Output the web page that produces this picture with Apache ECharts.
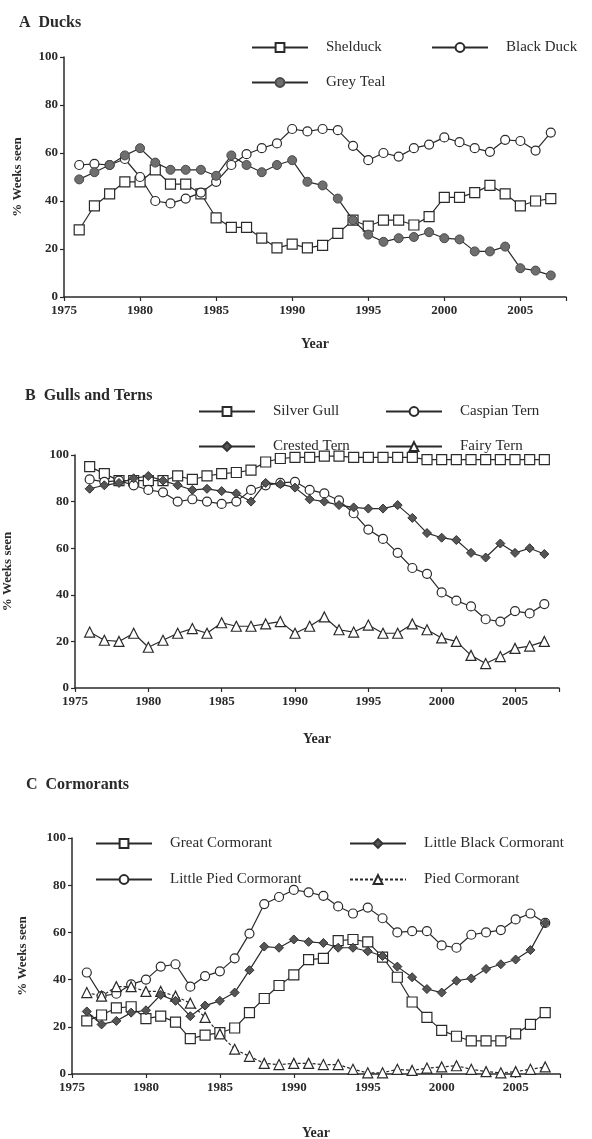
<!DOCTYPE html>
<html>
<head>
<meta charset="utf-8">
<script src="https://cdn.jsdelivr.net/npm/echarts@6/dist/echarts.min.js"></script>
<style>
  html, body { margin: 0; padding: 0; background: #fff; }
  #chart { width: 592px; height: 1139px; }
</style>
</head>
<body>
<div id="chart"></div>
<script>
// survey years
var years = [1976, 1977, 1978, 1979, 1980, 1981, 1982, 1983, 1984, 1985, 1986, 1987, 1988, 1989, 1990, 1991,
  1992, 1993, 1994, 1995, 1996, 1997, 1998, 1999, 2000, 2001, 2002, 2003, 2004, 2005, 2006, 2007];

// A Ducks
var shelduck = [28, 38, 43, 48, 48, 53, 47, 47, 43, 33, 29, 29, 24.5, 20.5, 22, 20.5,
  21.5, 26.5, 32, 29.5, 32, 32, 30, 33.5, 41.5, 41.5, 43.5, 46.5, 43, 38, 40, 41];
var blackDuck = [55, 55.5, 55, 57.5, 50, 40, 39, 41, 43.5, 48, 55, 59.5, 62, 64, 70, 69,
  70, 69.5, 63, 57, 60, 58.5, 62, 63.5, 66.5, 64.5, 62, 60.5, 65.5, 65, 61, 68.5];
var greyTeal = [49, 52, 55, 59, 62, 56, 53, 53, 53, 50.5, 59, 55, 52, 55, 57, 48,
  46.5, 41, 32, 26, 23, 24.5, 25, 27, 24.5, 24, 19, 19, 21, 12, 11, 9];

// B Gulls and Terns
var silverGull = [95, 92, 89, 89, 89, 89, 91, 89.5, 91, 92, 92.5, 93.5, 97, 98.5, 99, 99,
  99.5, 99.5, 99, 99, 99, 99, 99, 98, 98, 98, 98, 98, 98, 98, 98, 98];
var caspianTern = [89.5, 88.5, 89, 87, 85, 84, 80, 81, 80, 79, 80, 85, 87, 88, 88.5, 85,
  83.5, 80.5, 75, 68, 64, 58, 51.5, 49, 41, 37.5, 35, 29.5, 28.5, 33, 32, 36];
var crestedTern = [85.5, 87, 88, 90, 91, 89, 87, 85, 85.5, 84.5, 83.5, 80, 88, 87.5, 86, 81,
  80, 78.5, 77.5, 77, 77, 78.5, 73, 66.5, 64.5, 63.5, 58, 56, 62, 58, 60, 57.5];
var fairyTern = [24, 20.5, 20, 23.5, 17.5, 20.5, 23.5, 25.5, 23.5, 28, 26.5, 26.5, 27.5, 28.5, 23.5, 26.5,
  30.5, 25, 24, 27, 23.5, 23.5, 27.5, 25, 21.5, 20, 14, 10.5, 13.5, 17, 18, 20];

// C Cormorants
var greatCorm = [22.5, 25, 28, 28.5, 23.5, 24.5, 22, 15, 16.5, 17.5, 19.5, 26, 32, 37.5, 42, 48.5,
  49, 56.5, 57, 56, 49.5, 41, 30.5, 24, 18.5, 16, 14, 14, 14, 17, 21, 26];
var littleBlackCorm = [26.5, 21, 22.5, 26, 27, 33.5, 31, 24.5, 29, 31, 34.5, 44, 54, 53.5, 57, 56,
  55.5, 53.5, 53.5, 52, 50, 45.5, 41, 36, 34.5, 39.5, 40.5, 44.5, 46.5, 48.5, 52.5, 64];
var littlePiedCorm = [43, 33, 34, 38, 40, 45.5, 46.5, 37, 41.5, 43.5, 49, 59.5, 72, 75, 78, 77,
  75.5, 71, 68, 70.5, 66, 60, 60.5, 60.5, 54.5, 53.5, 59, 60, 61, 65.5, 68, 64];
var piedCorm = [34.5, 33, 37, 37, 35, 35, 33, 30, 24, 17, 10.5, 7.5, 4.5, 4, 4.5, 4.5,
  4, 4, 2, 0.5, 0.5, 2, 1.5, 2.5, 3, 3.5, 2, 1, 0.5, 1, 2, 3];

var FONT = '"Liberation Serif", "DejaVu Serif", serif';
var INK = '#2a2a2a';

function pairs(vals) {
  var out = [];
  for (var i = 0; i < years.length; i++) out.push([years[i], vals[i]]);
  return out;
}

function makeSeries(name, vals, idx, kind, dashed) {
  var item = { color: '#fff', borderColor: INK, borderWidth: 1.2 };
  var symbol = 'circle', size = 9;
  if (kind === 'square') { symbol = 'rect'; size = 10; }
  if (kind === 'triangle') { symbol = 'triangle'; size = 10; }
  if (kind === 'dot') { item = { color: '#6e6e6e', borderColor: '#4a4a4a', borderWidth: 1 }; }
  if (kind === 'diamond') { symbol = 'diamond'; size = 9; item = { color: '#555', borderColor: '#333', borderWidth: 1 }; }
  return {
    name: name,
    type: 'line',
    xAxisIndex: idx,
    yAxisIndex: idx,
    data: pairs(vals),
    symbol: symbol,
    symbolSize: size,
    showAllSymbol: true,
    lineStyle: { color: INK, width: 1.2, type: dashed ? [3, 2] : 'solid' },
    itemStyle: item,
    emphasis: { disabled: true },
    z: kind === 'dot' || kind === 'diamond' ? 3 : 2
  };
}

function xAxisFor(idx, gap) {
  return {
    type: 'value', gridIndex: idx, min: 1975, max: 2008, interval: 5,
    name: 'Year', nameLocation: 'middle', nameGap: gap,
    nameTextStyle: { fontFamily: FONT, fontWeight: 'bold', fontSize: 14, color: INK },
    axisLine: { lineStyle: { color: INK, width: 1.5 } },
    axisTick: { length: 4, lineStyle: { color: INK, width: 1.2 } },
    axisLabel: {
      fontFamily: FONT, fontWeight: 'bold', fontSize: 13, color: INK, margin: 7,
      formatter: function (v) { return v % 5 === 0 ? String(v) : ''; }
    },
    splitLine: { show: false }
  };
}

function yAxisFor(idx, gap) {
  return {
    type: 'value', gridIndex: idx, min: 0, max: 100, interval: 20,
    name: '% Weeks seen', nameLocation: 'middle', nameGap: gap,
    nameTextStyle: { fontFamily: FONT, fontWeight: 'bold', fontSize: 13, color: INK },
    axisLine: { show: true, lineStyle: { color: INK, width: 1.5 } },
    axisTick: { show: true, length: 4, lineStyle: { color: INK, width: 1.2 } },
    axisLabel: { fontFamily: FONT, fontWeight: 'bold', fontSize: 13, color: INK, margin: 6 },
    splitLine: { show: false }
  };
}

function legendAt(name, left, top) {
  return {
    data: [name], left: left, top: top,
    itemWidth: 56, itemHeight: 11,
    selectedMode: false,
    textStyle: { fontFamily: FONT, fontSize: 15, color: INK, padding: [0, 0, 0, 13] }
  };
}

function titleAt(text, left, top) {
  return { text: text, left: left, top: top,
    textStyle: { fontFamily: FONT, fontWeight: 'bold', fontSize: 16, color: INK } };
}

var chart = echarts.init(document.getElementById('chart'));

var option = {
  animation: false,
  backgroundColor: '#fff',
  title: [
    titleAt('A  Ducks', 14, 10),
    titleAt('B  Gulls and Terns', 20, 383),
    titleAt('C  Cormorants', 21, 772)
  ],
  legend: [
    legendAt('Shelduck', 246, 35),
    legendAt('Black Duck', 426, 35),
    legendAt('Grey Teal', 246, 70),
    legendAt('Silver Gull', 193, 399),
    legendAt('Caspian Tern', 380, 399),
    legendAt('Crested Tern', 193, 434),
    legendAt('Fairy Tern', 380, 434),
    legendAt('Great Cormorant', 90, 831),
    legendAt('Little Black Cormorant', 344, 831),
    legendAt('Little Pied Cormorant', 90, 867),
    legendAt('Pied Cormorant', 344, 867)
  ],
  grid: [
    { left: 64, top: 57, width: 502, height: 240, outerBoundsMode: 'none' },
    { left: 75, top: 455, width: 484, height: 233, outerBoundsMode: 'none' },
    { left: 72, top: 838, width: 488, height: 236, outerBoundsMode: 'none' }
  ],
  xAxis: [xAxisFor(0, 40), xAxisFor(1, 44), xAxisFor(2, 52)],
  yAxis: [yAxisFor(0, 40), yAxisFor(1, 61), yAxisFor(2, 43)],
  series: [
    makeSeries('Shelduck', shelduck, 0, 'square'),
    makeSeries('Black Duck', blackDuck, 0, 'circle'),
    makeSeries('Grey Teal', greyTeal, 0, 'dot'),
    makeSeries('Silver Gull', silverGull, 1, 'square'),
    makeSeries('Caspian Tern', caspianTern, 1, 'circle'),
    makeSeries('Crested Tern', crestedTern, 1, 'diamond'),
    makeSeries('Fairy Tern', fairyTern, 1, 'triangle'),
    makeSeries('Great Cormorant', greatCorm, 2, 'square'),
    makeSeries('Little Black Cormorant', littleBlackCorm, 2, 'diamond'),
    makeSeries('Little Pied Cormorant', littlePiedCorm, 2, 'circle'),
    makeSeries('Pied Cormorant', piedCorm, 2, 'triangle', true)
  ]
};

chart.setOption(option);
window.addEventListener('resize', function () { chart.resize(); });
</script>
</body>
</html>
